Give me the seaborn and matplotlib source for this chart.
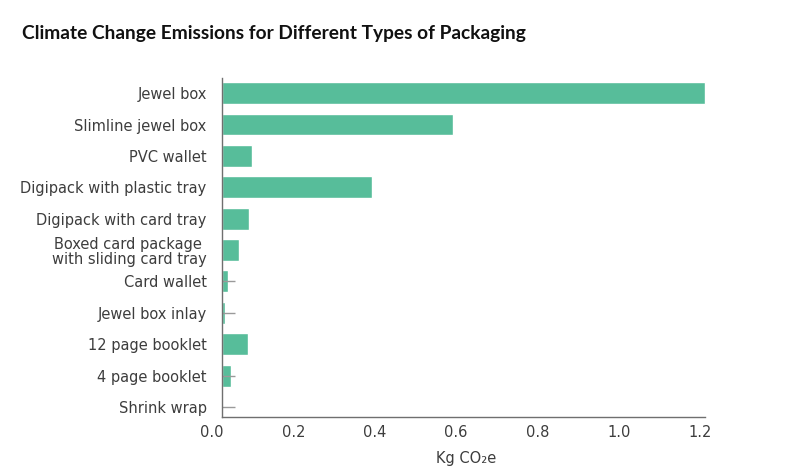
import matplotlib
matplotlib.use("Agg")
import matplotlib.pyplot as plt
import matplotlib.transforms as mtransforms
import seaborn as sns
import pandas as pd

categories = [
    "Jewel box",
    "Slimline jewel box",
    "PVC wallet",
    "Digipack with plastic tray",
    "Digipack with card tray",
    "Boxed card package \nwith sliding card tray",
    "Card wallet",
    "Jewel box inlay",
    "12 page booklet",
    "4 page booklet",
    "Shrink wrap",
]
values = [1.188, 0.568, 0.074, 0.369, 0.066, 0.042, 0.015, 0.008, 0.063, 0.022, 0.0]
stub_categories = ["Card wallet", "Jewel box inlay", "4 page booklet", "Shrink wrap"]
stub_length = 0.032
x_ticks = [0.0, 0.2, 0.4, 0.6, 0.8, 1.0, 1.2]

df = pd.DataFrame({"category": categories, "value": values})

sns.set_theme(style="white")
plt.rcParams["font.family"] = ["DejaVu Sans"]

bar_color = "#57bd9a"
text_color = "#3d3d3d"
axis_color = "#6f6f6f"

fig = plt.figure(figsize=(8, 4.76), dpi=100)
ax = fig.add_axes([0.2775, 0.124, 0.61, 0.712])

sns.barplot(data=df, x="value", y="category", order=categories, color=bar_color,
            saturation=1, width=0.7, ax=ax, orient="h")

# short gray stubs next to the tiny bars
for cat in stub_categories:
    pos = categories.index(cat)
    ax.hlines(pos, 0, stub_length, color="#9a9a9a", lw=1.0, zorder=1)

ax.set_xlim(0, 1.2)
ax.set_ylim(len(categories) - 1 + 0.32, -0.48)
ax.set_xticks(x_ticks)
ax.set_xticklabels([f"{t:.1f}" for t in x_ticks])
ax.set_ylabel("")
ax.set_xlabel("Kg CO\u2082e", color=text_color, fontsize=10.5, labelpad=8)

for s in ["top", "right"]:
    ax.spines[s].set_visible(False)
for s in ["left", "bottom"]:
    ax.spines[s].set_color(axis_color)
    ax.spines[s].set_linewidth(1.0)
ax.spines["bottom"].set_bounds(0, 1.188)

ax.tick_params(axis="x", direction="in", length=6, width=0.8, color=axis_color,
               labelsize=10.5, labelcolor=text_color, pad=6)
ax.tick_params(axis="y", length=0, labelsize=10.5, labelcolor=text_color, pad=11)
ticks = ax.xaxis.get_major_ticks()
ticks[0].tick1line.set_visible(False)
ticks[-1].tick1line.set_visible(False)

offset = mtransforms.ScaledTranslation(-10 / 100, 0, fig.dpi_scale_trans)
for lbl in ax.get_xticklabels():
    lbl.set_transform(lbl.get_transform() + offset)
for lbl in ax.get_yticklabels():
    lbl.set_linespacing(1.05)

fig.text(0.0275, 0.93, "Climate Change Emissions for Different Types of Packaging",
         fontsize=13.8, fontweight="bold", family=["Lato", "DejaVu Sans"],
         color="#111111", va="center", ha="left")

fig.savefig("out.png", dpi=100)
